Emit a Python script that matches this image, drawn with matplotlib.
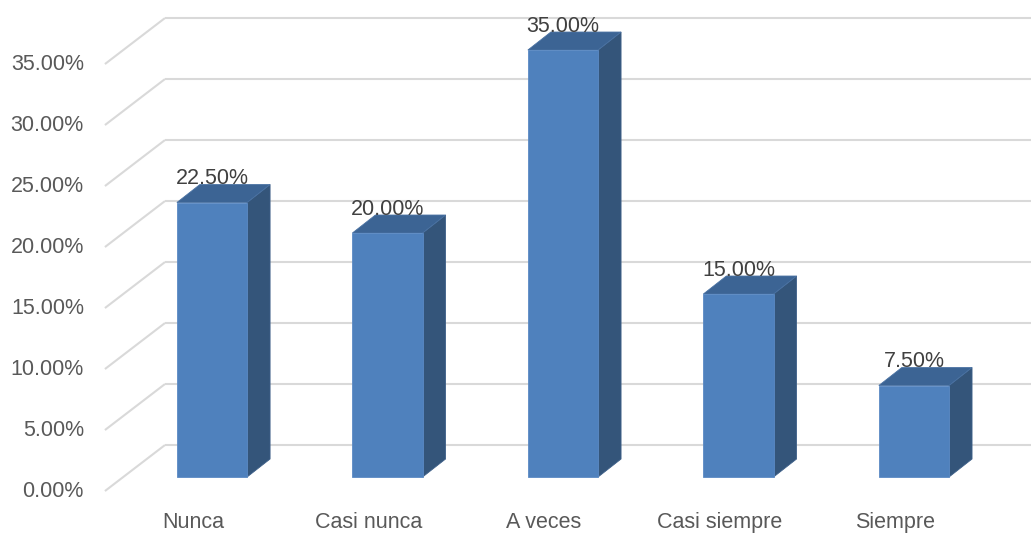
import matplotlib.pyplot as plt
from matplotlib.patches import Polygon

# Survey frequency data
categories = ['Nunca', 'Casi nunca', 'A veces', 'Casi siempre', 'Siempre']
percentages = [22.5, 20.0, 35.0, 15.0, 7.5]
grid_values = [0, 5, 10, 15, 20, 25, 30, 35]

# 3D look settings (data units: x = category index, y = percent)
bar_w = 0.4
bar_dx, bar_dy = 0.131, 1.475      # bar depth
wall_front_x, wall_back_x = -0.61, -0.268
wall_front_dy, wall_back_dy = -1.15, 2.62

col_front = '#4F81BD'
col_top = '#3C6494'
col_side = '#34557A'
col_grid = '#D9D9D9'

plt.rcParams['font.family'] = ['Liberation Sans', 'DejaVu Sans']

fig = plt.figure(figsize=(10.31, 5.33), dpi=100)
ax = fig.add_axes([0, 0, 1, 1])
ax.set_xlim(-1.208, 4.667)
ax.set_ylim(-4.59, 39.1)
ax.axis('off')

# walls: diagonal floor/side lines and back gridlines
for g in grid_values:
    ax.plot([wall_front_x, wall_back_x], [g + wall_front_dy, g + wall_back_dy],
            color=col_grid, lw=1.5, zorder=1, solid_capstyle='butt')
    ax.plot([wall_back_x, 5], [g + wall_back_dy, g + wall_back_dy],
            color=col_grid, lw=1.5, zorder=1, solid_capstyle='butt')
    ax.text(wall_front_x - 0.12, g + wall_front_dy, f'{g:.2f}%', ha='right', va='center',
            fontsize=15.5, color='#595959')

# bars
for i, v in enumerate(percentages):
    x0, x1 = i - bar_w / 2, i + bar_w / 2
    front = Polygon([(x0, 0), (x1, 0), (x1, v), (x0, v)], closed=True,
                    facecolor=col_front, edgecolor='#5B8AC4', lw=0.6, zorder=3)
    top = Polygon([(x0, v), (x1, v), (x1 + bar_dx, v + bar_dy), (x0 + bar_dx, v + bar_dy)],
                  closed=True, facecolor=col_top, edgecolor='#4A72A3', lw=0.6, zorder=3)
    side = Polygon([(x1, 0), (x1, v), (x1 + bar_dx, v + bar_dy), (x1 + bar_dx, bar_dy)],
                   closed=True, facecolor=col_side, edgecolor='#3E6089', lw=0.6, zorder=3)
    ax.add_patch(side)
    ax.add_patch(top)
    ax.add_patch(front)
    ax.text(i, v + bar_dy - 0.4, f'{v:.2f}%', ha='center', va='bottom',
            fontsize=15.5, color='#404040', zorder=4)
    ax.text(i - 0.108, -3.69, categories[i], ha='center', va='center',
            fontsize=15.5, color='#595959')

fig.savefig('out.png', dpi=100)
